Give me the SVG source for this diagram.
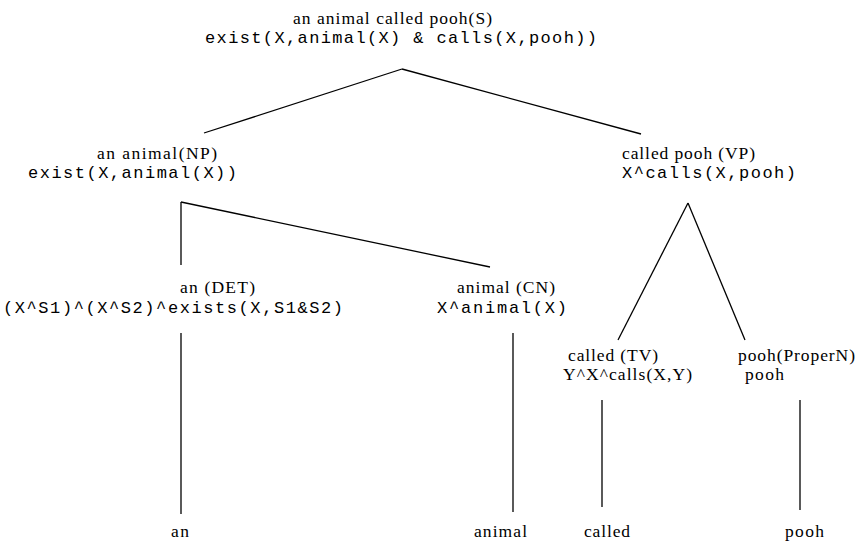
<svg xmlns="http://www.w3.org/2000/svg" width="863" height="547" viewBox="0 0 863 547">
<style>
.s{font-family:"Liberation Serif","Times New Roman",serif;font-size:17.5px;fill:#000}
.m{font-family:"Liberation Mono","Courier New",monospace;font-size:17px;fill:#000}
.c line{stroke:#000;stroke-width:1.3;fill:none}
</style>
<rect width="863" height="547" fill="#fff"/>
<g id="connectors" class="c">
<line x1="402" y1="69" x2="204" y2="133"/>
<line x1="402" y1="69" x2="641" y2="134"/>
<line x1="181" y1="202" x2="181" y2="265"/>
<line x1="181" y1="202" x2="490" y2="267"/>
<line x1="688" y1="203" x2="618" y2="340"/>
<line x1="688" y1="203" x2="745" y2="340"/>
<line x1="181" y1="333" x2="181" y2="514"/>
<line x1="513" y1="333" x2="513" y2="512"/>
<line x1="602" y1="400" x2="602" y2="507"/>
<line x1="800" y1="400" x2="800" y2="510"/>
</g>
<g id="S">
<text class="s" x="293" y="24" textLength="199">an animal called pooh(S)</text>
<text class="m" x="205" y="43" textLength="392">exist(X,animal(X) &amp; calls(X,pooh))</text>
</g>
<g id="NP">
<text class="s" x="97" y="159" textLength="120">an animal(NP)</text>
<text class="m" x="28" y="178" textLength="209">exist(X,animal(X))</text>
</g>
<g id="VP">
<text class="s" x="622" y="159" textLength="133">called pooh (VP)</text>
<text class="m" x="622" y="178" textLength="174">X^calls(X,pooh)</text>
</g>
<g id="DET">
<text class="s" x="180" y="293" textLength="75">an (DET)</text>
<text class="m" x="3" y="313" textLength="340">(X^S1)^(X^S2)^exists(X,S1&amp;S2)</text>
</g>
<g id="CN">
<text class="s" x="457" y="293" textLength="98">animal (CN)</text>
<text class="m" x="437" y="313" textLength="130">X^animal(X)</text>
</g>
<g id="TV">
<text class="s" x="568" y="361" textLength="90">called (TV)</text>
<text class="s" x="563" y="380" textLength="129">Y^X^calls(X,Y)</text>
</g>
<g id="ProperN">
<text class="s" x="738" y="361" textLength="117">pooh(ProperN)</text>
<text class="s" x="745" y="380" textLength="39">pooh</text>
</g>
<g id="leaf-an"><text class="s" x="171" y="537" textLength="18">an</text></g>
<g id="leaf-animal"><text class="s" x="474" y="537" textLength="53">animal</text></g>
<g id="leaf-called"><text class="s" x="584" y="537" textLength="46">called</text></g>
<g id="leaf-pooh"><text class="s" x="785" y="537" textLength="39">pooh</text></g>
</svg>
